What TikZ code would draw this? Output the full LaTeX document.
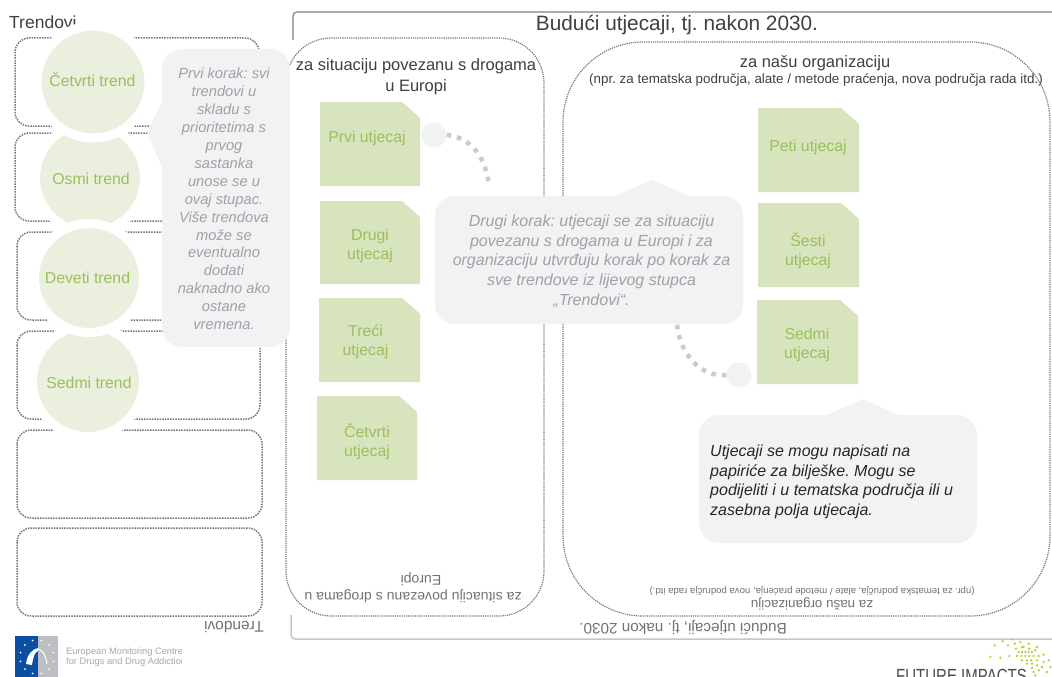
\documentclass[tikz,border=0pt]{standalone}
\usepackage{fontspec}
\setmainfont{Liberation Sans}
\frenchspacing
\definecolor{notegreen}{HTML}{D8E4BD}
\definecolor{circgreen}{HTML}{EAEFDE}
\definecolor{txtgreen}{HTML}{9BBF5D}
\definecolor{callfill}{HTML}{F1F2F4}
\definecolor{calltxt}{HTML}{A0A1A4}
\definecolor{darktxt}{HTML}{404040}
\definecolor{dottxt}{HTML}{777777}
\definecolor{logoblue}{HTML}{0B4EA2}
\definecolor{logogrey}{HTML}{BDBFC2}
\definecolor{logotxt}{HTML}{A5A7AA}
\definecolor{flecks}{HTML}{BDCB3C}
\newcommand{\fs}[2]{\fontsize{#1}{#2}\selectfont}
\tikzset{
  trendbox/.style={draw=dottxt,line width=1.5pt,dash pattern=on 1.5pt off 1.1pt,rounded corners=14pt},
  bigbox/.style={draw=dottxt,line width=1.2pt,dash pattern=on 1.2pt off 1pt},
  trendcirc/.style={circle,fill=circgreen,draw=white,line width=9pt,inner sep=0pt,minimum size=#1},
  trendtxt/.style={text=txtgreen,font=\fs{15.8}{19},inner sep=0pt},
  notetxt/.style={text=txtgreen,font=\fs{15.8}{19},align=center,inner sep=0pt},
  notefill/.style={fill=notegreen,draw=none},
  callout/.style={fill=callfill,rounded corners=20pt,inner sep=0pt},
  calltext/.style={align=center,text=calltxt,inner sep=0pt},
  smalldot/.style={circle,fill=callfill,minimum size=25pt,inner sep=0pt},
  thickdots/.style={draw=calltxt!55,line width=4.5pt,dash pattern=on 4.5pt off 6pt},
  frametxt/.style={text=darktxt},
  fliptxt/.style={rotate=180,text=black!55,align=center},
}
\newcommand{\stickynote}[6]{% name x1 y1 x2 y2 text-position text follows
  \fill[notefill] (#2,#3) -- ({#4-18},#3) -- (#4,{#3+16}) -- (#4,#5) -- (#2,#5) -- cycle;
  \node[notetxt] (#1) at (#6)
}
\begin{document}
\begin{tikzpicture}[x=1pt,y=-1pt]
\useasboundingbox (0,0) rectangle (1052,677);
\clip (0,0) rectangle (1052,677);
\fill[white] (0,0) rectangle (1052,677);

% outer frame lines
\draw[black!50,line width=1.2pt,rounded corners=4pt] (293,40) -- (293,12) -- (1060,12);
\draw[black!22,line width=1.5pt,rounded corners=4pt] (291,615) -- (291,639) -- (1060,639);

% texts of the frame
\node[frametxt,font=\fs{20.8}{25},inner sep=0pt] (title) at (677,25) {Budući utjecaji, tj. nakon 2030.};
\node[fliptxt,font=\fs{15.3}{18},inner sep=0pt] (titleflip) at (683,628) {Budući utjecaji, tj. nakon 2030.};
\node[frametxt,font=\fs{17.5}{21},inner sep=0pt,anchor=west] (trendhead) at (9,22) {Trendovi};
\node[fliptxt,font=\fs{15.5}{18},inner sep=0pt,anchor=west] (trendflip) at (264,627) {Trendovi};

% containers
\draw[bigbox,rounded corners=45pt] (286,38) rectangle (544,616);
\draw[bigbox,rounded corners=80pt] (563,42) rectangle (1050,616);

\node[frametxt,font=\fs{16.5}{21},align=center,inner sep=0pt] (sitlabel) at (416,77)
  {za situaciju povezanu s drogama\\u Europi};
\node[frametxt,font=\fs{16.5}{20},inner sep=0pt] (orglabel) at (815,63) {za našu organizaciju};
\node[frametxt,font=\fs{13.4}{16},inner sep=0pt] (orgsub) at (816,80) {(npr. za tematska područja, alate / metode praćenja, nova područja rada itd.)};
\node[fliptxt,font=\fs{14.1}{17},inner sep=0pt] (sitflip) at (413,588) {za situaciju povezanu s drogama u\\Europi\hspace*{16pt}};
\node[fliptxt,font=\fs{13.4}{16},inner sep=0pt] (orgflip) at (812,604) {za našu organizaciju};
\node[fliptxt,font=\fs{9.6}{12},inner sep=0pt] (orgsubflip) at (812,591) {(npr. za tematska područja, alate / metode praćenja, nova područja rada itd.)};

% trend boxes
\draw[trendbox] (15,38) rectangle (259,126);
\draw[trendbox] (15,133) rectangle (259,221);
\draw[trendbox] (17,232) rectangle (260,320);
\draw[trendbox] (17,331) rectangle (260,419);
\draw[trendbox] (17,430) rectangle (262,518);
\draw[trendbox] (17,528) rectangle (262,616);

% trend circles
\node[trendcirc=109pt] (t2) at (90,178) {};
\node[trendcirc=112pt] (t1) at (93,82) {};
\node[trendcirc=111pt] (t4) at (88,381) {};
\node[trendcirc=109pt] (t3) at (89,278) {};
\node[trendtxt] (t1txt) at (92.5,80) {Četvrti trend};
\node[trendtxt] (t2txt) at (91,179) {Osmi trend};
\node[trendtxt] (t3txt) at (87.5,278) {Deveti trend};
\node[trendtxt] (t4txt) at (89,382.5) {Sedmi trend};

% sticky notes
\stickynote{n1}{320}{102}{420}{186}{367,138.5}{Prvi utjecaj};
\stickynote{n2}{320}{201}{420}{284}{370,246}{Drugi\\utjecaj};
\stickynote{n3}{319}{298}{420}{382}{365.5,342}{Treći\\utjecaj};
\stickynote{n4}{317}{396}{417}{480}{367,441.5}{Četvrti\\utjecaj};
\stickynote{n5}{758}{108}{859}{192}{808,147}{Peti utjecaj};
\stickynote{n6}{758}{203}{859}{287}{808,250.5}{Šesti\\utjecaj};
\stickynote{n7}{757}{300}{858}{384}{807,345}{Sedmi\\utjecaj};

% small dots and dotted connectors
\node[smalldot] (d1) at (434,135) {};
\node[smalldot] (d2) at (739,375) {};
\coordinate (c1) at (489,186);
\coordinate (c2) at (677,324);
\draw[thickdots] (d1.east) to[out=-5,in=95] (c1);
\draw[thickdots] (d2.west) to[out=185,in=-85] (c2);

% first callout
\fill[callfill] (164,98) -- (147,132) -- (164,172) -- cycle;
\node[callout,minimum width=128pt,minimum height=298pt] (call1) at (226,198) {};
\node[calltext,font=\fs{14.7}{17.9}\itshape] (call1txt) at (224,199)
  {Prvi korak: svi\\trendovi u\\skladu s\\prioritetima s\\prvog\\sastanka\\unose se u\\ovaj stupac.\\Više trendova\\može se\\eventualno\\dodati\\naknadno ako\\ostane\\vremena.};

% second callout
\fill[callfill] (613,197) -- (652,180) -- (692,197) -- cycle;
\node[callout,minimum width=308pt,minimum height=128pt] (call2) at (589,260) {};
\node[calltext,font=\fs{16}{19.7}\itshape] (call2txt) at (591.5,261)
  {Drugi korak: utjecaji se za situaciju\\povezanu s drogama u Europi i za\\organizaciju utvrđuju korak po korak za\\sve trendove iz lijevog stupca\\„Trendovi“.};

% third callout
\fill[callfill] (825,416) -- (863,399) -- (900,416) -- cycle;
\node[callout,minimum width=278pt,minimum height=128pt] (call3) at (838,479) {};
\node[calltext,anchor=west,align=left,text=black!85,font=\fs{16}{19.5}\itshape] (call3txt) at (710,482)
  {Utjecaji se mogu napisati na\\papiriće za bilješke. Mogu se\\podijeliti i u tematska područja ili u\\zasebna polja utjecaja.};

% EMCDDA logo
\fill[logoblue] (15,636) rectangle (38,677);
\fill[logogrey] (38,636) rectangle (58,677);
\foreach \a in {15,45,...,345}
  \fill[white] ({37+17*cos(\a)},{657+17*sin(\a)}) circle (1pt);
\fill[white] (26,664) .. controls (27,655) and (32,649) .. (38,648) -- (38,651) .. controls (35,652) and (33,657) .. (32,665) -- cycle;
\draw[white,line width=1pt] (38,649) .. controls (43,650) and (46,656) .. (47,664);
\begin{scope}
\clip (60,640) rectangle (181,677);
\node[anchor=west,text=logotxt,font=\fs{9.3}{10.5},align=left,inner sep=0pt] (logotext) at (66,657)
  {European Monitoring Centre\\for Drugs and Drug Addiction};
\end{scope}

% Future impacts logo
\node[anchor=west,text=black!70,font=\fs{19}{21},inner sep=0pt,xscale=.79] (fi) at (896,676) {FUTURE IMPACTS};
\foreach \p/\q in {68/40,92/28,120/22,145/30,55/75,85/77,112/72,108/40,128/35,132/50,150/45,170/35,172/50,190/55,215/68,195/45,140/60,150/60,160/60,170/60,180/60,135/72,148/72,160/72,172/72,185/72,200/72,150/85,165/85,178/85,195/85,215/90,230/85,165/95,180/95,195/100,210/105,180/108,200/115,225/120,185/120,190/130,235/105,155/45}
  \fill[flecks] ({972+\p/3},{632+\q/3}) circle (1.3pt);
\end{tikzpicture}
\end{document}
